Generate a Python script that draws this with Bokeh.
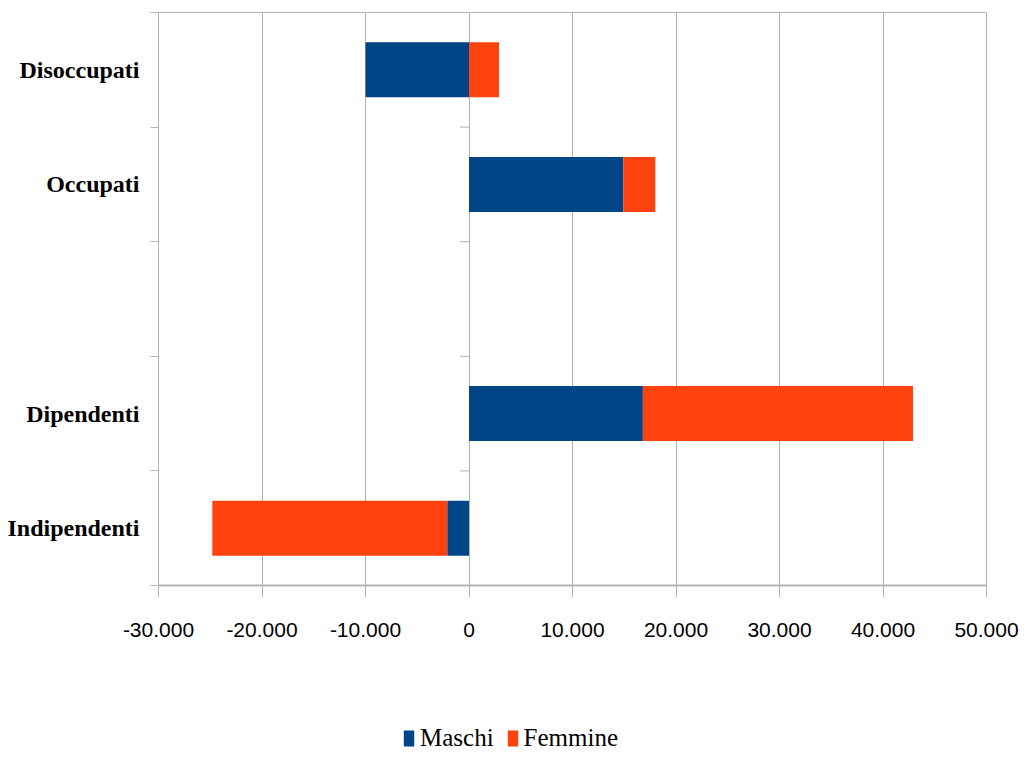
from bokeh.plotting import figure
from bokeh.layouts import column
from bokeh.models import (Range1d, FixedTicker, CustomJSTickFormatter, Legend, LegendItem,
                          ColumnDataSource)
from bokeh.embed import file_html
from bokeh.resources import INLINE
import math

# ---- data ----
slots = ["Indipendenti", "Dipendenti", "", "Occupati", "Disoccupati"]  # bottom -> top
categories = ["Disoccupati", "Occupati", "Dipendenti", "Indipendenti"]
maschi = [-10000, 14900, 16800, -2100]
femmine = [2900, 3100, 26100, -22700]
x_ticks = [-30000, -20000, -10000, 0, 10000, 20000, 30000, 40000, 50000]
series = ["Maschi", "Femmine"]
colors = ["#004586", "#ff420e"]

GRAY = "#b3b3b3"

# stacking: positives on the positive stack, negatives on the negative stack
ypos = [slots.index(c) for c in categories]
ml, mr, fl, fr = [], [], [], []
for m, f in zip(maschi, femmine):
    pos, neg = 0, 0
    if m >= 0:
        ml.append(pos); mr.append(pos + m); pos += m
    else:
        mr.append(neg); ml.append(neg + m); neg += m
    if f >= 0:
        fl.append(pos); fr.append(pos + f); pos += f
    else:
        fr.append(neg); fl.append(neg + f); neg += f

src = ColumnDataSource(dict(y=ypos, ml=ml, mr=mr, fl=fl, fr=fr))

p = figure(width=1024, height=705, output_backend="svg", toolbar_location=None,
           x_range=Range1d(x_ticks[0], x_ticks[-1]),
           y_range=Range1d(-0.5, len(slots) - 0.5),
           min_border_left=158, min_border_right=38, min_border_top=12,
           min_border_bottom=120)
p.background_fill_color = "white"
p.border_fill_color = "white"
p.outline_line_color = GRAY
p.outline_line_width = 1

bar_h = 0.48
p.hbar(y="y", left="ml", right="mr", height=bar_h, source=src,
       fill_color=colors[0], line_color=None)
p.hbar(y="y", left="fl", right="fr", height=bar_h, source=src,
       fill_color=colors[1], line_color=None)

# small ticks on the zero line at slot boundaries
inner_bounds = [i + 0.5 for i in range(len(slots) - 1)]
p.ray(x=[0] * len(inner_bounds), y=inner_bounds, length=9, angle=math.pi,
      length_units="screen", line_color=GRAY, line_width=1)

# x axis
p.xaxis.ticker = FixedTicker(ticks=x_ticks)
p.xaxis.formatter = CustomJSTickFormatter(code="""
    const s = Math.abs(Math.round(tick)).toString().replace(/\\B(?=(\\d{3})+(?!\\d))/g, '.');
    return (tick < 0 ? '-' : '') + s;
""")
p.xaxis.axis_line_color = GRAY
p.xaxis.axis_line_width = 2
p.xaxis.major_tick_line_color = GRAY
p.xaxis.major_tick_out = 12
p.xaxis.major_tick_in = 0
p.xaxis.minor_tick_line_color = None
p.xaxis.major_label_text_font = "Liberation Sans"
p.xaxis.major_label_text_font_size = "21px"
p.xaxis.major_label_text_color = "black"
p.xaxis.major_label_standoff = 25

# y axis
centers = [i for i, s in enumerate(slots) if s]
bounds = [i - 0.5 for i in range(len(slots) + 1)]
p.yaxis.ticker = FixedTicker(ticks=centers, minor_ticks=bounds)
p.yaxis.major_label_overrides = {i: slots[i] for i in centers}
p.yaxis.axis_line_color = GRAY
p.yaxis.major_tick_line_color = None
p.yaxis.major_tick_out = 0
p.yaxis.major_tick_in = 0
p.yaxis.minor_tick_line_color = GRAY
p.yaxis.minor_tick_out = 8
p.yaxis.minor_tick_in = 0
p.yaxis.major_label_text_font = "Liberation Serif"
p.yaxis.major_label_text_font_style = "bold"
p.yaxis.major_label_text_font_size = "24px"
p.yaxis.major_label_text_color = "black"
p.yaxis.major_label_standoff = 11

p.xgrid.grid_line_color = GRAY
p.xgrid.grid_line_width = 1
p.ygrid.grid_line_color = None

# ---- legend strip below the chart ----
lg = figure(width=1024, height=47, output_backend="svg", toolbar_location=None,
            x_axis_type=None, y_axis_type=None, min_border=0,
            x_range=Range1d(0, 1), y_range=Range1d(0, 1))
lg.outline_line_color = None
lg.background_fill_color = "white"
lg.border_fill_color = "white"
lg.xgrid.grid_line_color = None
lg.ygrid.grid_line_color = None
# legend-only swatch renderers (placed outside the visible range)
swatch = ColumnDataSource(dict(y=[5], l=[0], r=[0]))
lr_m = lg.hbar(y="y", left="l", right="r", height=1, source=swatch,
               fill_color=colors[0], line_color=None)
lr_f = lg.hbar(y="y", left="l", right="r", height=1, source=swatch,
               fill_color=colors[1], line_color=None)
legend = Legend(items=[LegendItem(label=series[0], renderers=[lr_m], index=0),
                       LegendItem(label=series[1], renderers=[lr_f], index=0)],
                orientation="horizontal", location=(244, 0),
                glyph_width=13, glyph_height=20, label_standoff=5, spacing=12,
                padding=0, margin=0, border_line_color=None, background_fill_alpha=0,
                label_text_font="Liberation Serif", label_text_font_size="25px",
                label_text_color="black", label_height=20)
lg.add_layout(legend, "center")

open("out.html", "w").write(file_html(column(p, lg, spacing=0), INLINE))
